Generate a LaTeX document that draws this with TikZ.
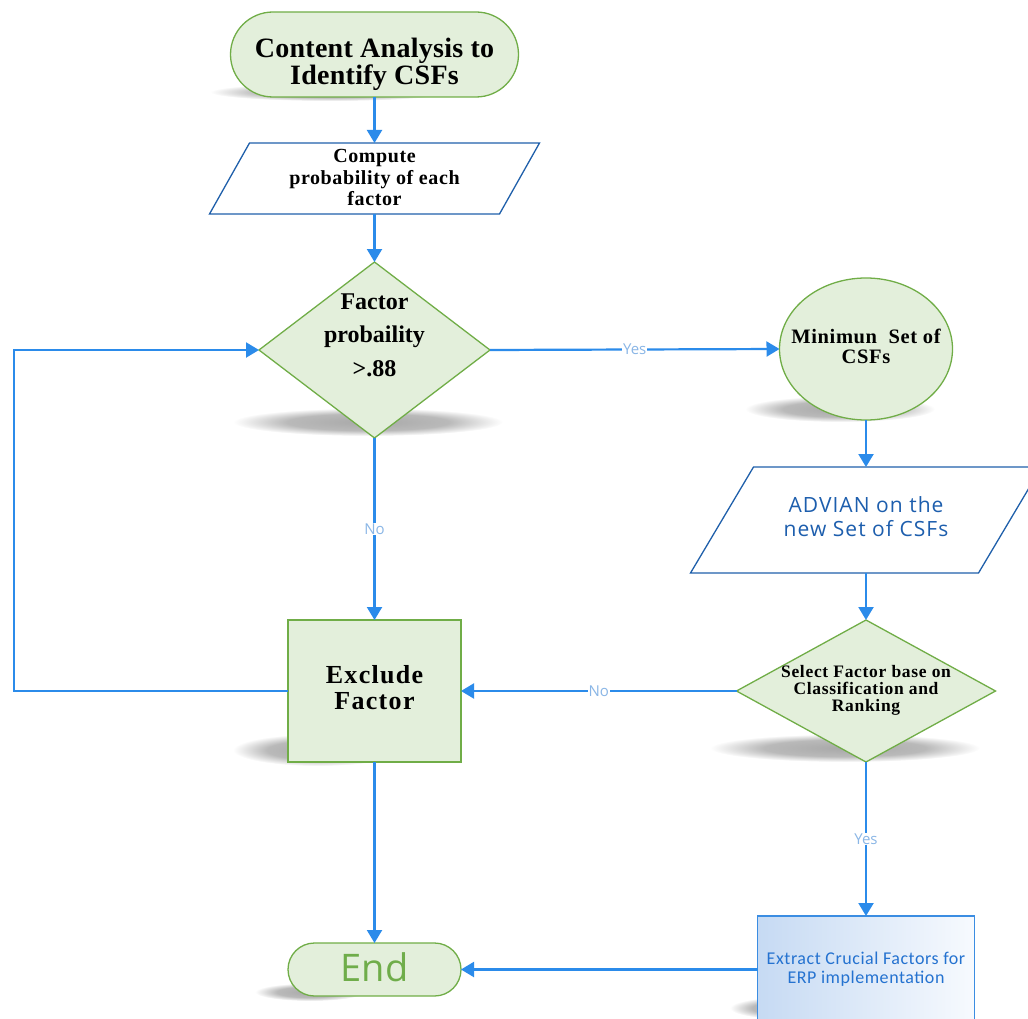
\documentclass[tikz,border=0pt]{standalone}
\usepackage{fontspec}
\usetikzlibrary{shapes.geometric,arrows.meta,calc}
\setmainfont{Liberation Serif}
\newfontfamily\osans{Open Sans}
\newfontfamily\csans{Carlito}
\definecolor{gfill}{HTML}{E3EFDB}
\definecolor{gline}{HTML}{70AD47}
\definecolor{pblue}{HTML}{1F5FAA}
\definecolor{ablue}{HTML}{2B8BEA}
\definecolor{lblue}{HTML}{8AB6E6}
\definecolor{tblue}{HTML}{1D5EAD}
\definecolor{xblue}{HTML}{2472D0}
\definecolor{egrL}{HTML}{C6DAF3}
\definecolor{egrR}{HTML}{F7FAFE}
\definecolor{eline}{HTML}{3B8DE2}
\definecolor{shd}{HTML}{A8A8A8}
\definecolor{endgreen}{HTML}{6FAD4A}
\pgfdeclareradialshading{softshadow}{\pgfpoint{0bp}{0bp}}{color(0bp)=(shd); color(15bp)=(shd!80); color(25bp)=(white); color(50bp)=(white)}
\newcommand\ls[1]{\addfontfeature{LetterSpace=#1}}
\newcommand\zbox[3]{\makebox[0pt]{#1\smash{\raisebox{\dimexpr #2-0.25em\relax}{\begin{tabular}{@{}c@{}}#3\end{tabular}}}}}
\begin{document}
\begin{tikzpicture}[x=1pt,y=-1pt,
  base/.style={inner sep=0pt, outer sep=0pt},
  gshape/.style={base, draw=gline, fill=gfill, line width=1.3pt},
  pbody/.style={base, rectangle},
  pline/.style={draw=pblue, line width=1.3pt, line join=miter},
  arr/.style={draw=ablue, line width=2.2pt, -{Triangle[length=13pt,width=15pt]}},
  lab/.style={fill=white, text=lblue, font=\osans\fontsize{15}{15}\selectfont, inner sep=1pt}]
\useasboundingbox (0,0) rectangle (1028,1019);
\clip (0,0) rectangle (1028,1019);
% shadows
\shade[shading=softshadow] (330,92) ellipse (120 and 9);
\shade[shading=softshadow] (368,422) ellipse (135 and 14);
\shade[shading=softshadow] (840,409) ellipse (95 and 13);
\shade[shading=softshadow] (318,750) ellipse (85 and 16);
\shade[shading=softshadow] (845,748) ellipse (135 and 14);
\shade[shading=softshadow] (310,992) ellipse (55 and 9);
\shade[shading=softshadow] (785,1008) ellipse (55 and 11);
% nodes
\node[gshape, rectangle, rounded corners=42.5pt, minimum width=288pt, minimum height=85pt] (start) at (374.5,54.5)
  {\zbox{\fontsize{28}{27}\bfseries\ls{1}}{-10pt}{Content Analysis to\\Identify CSFs}};
\node[pbody, minimum width=290pt, minimum height=71pt] (comp) at (374.5,178.5)
  {\zbox{\fontsize{20}{21.5}\bfseries\ls{3}}{-1.5pt}{Compute\\probability of each\\factor}};
\draw[pline] ([xshift=20pt]comp.north west) -- ([xshift=20pt]comp.north east) -- ([xshift=-20pt]comp.south east) -- ([xshift=-20pt]comp.south west) -- cycle;
\node[gshape, diamond, minimum width=231pt, minimum height=176pt] (d1) at (374.5,350)
  {\zbox{\fontsize{24}{33.5}\bfseries}{13.5pt}{Factor\\probaility\\>.88}};
\node[gshape, ellipse, minimum width=173pt, minimum height=142pt] (circ) at (866,349)
  {\zbox{\fontsize{20.5}{20}\bfseries\ls{3}}{0pt}{Minimun~ Set of\\CSFs}};
\node[pbody, minimum width=288pt, minimum height=106pt] (adv) at (866,520)
  {\zbox{\osans\fontsize{21}{24}\selectfont\ls{5}\color{tblue}}{0pt}{ADVIAN on the\\new Set of CSFs}};
\draw[pline] ([xshift=31.5pt]adv.north west) -- ([xshift=31.5pt]adv.north east) -- ([xshift=-31.5pt]adv.south east) -- ([xshift=-31.5pt]adv.south west) -- cycle;
\node[gshape, diamond, minimum width=259pt, minimum height=142pt] (d2) at (866,691)
  {\zbox{\fontsize{17.5}{16.7}\bfseries\ls{4}}{0pt}{Select Factor base on\\Classification and\\Ranking}};
\node[gshape, rectangle, minimum width=173pt, minimum height=142pt] (excl) at (374.5,691)
  {\zbox{\fontsize{26}{26}\bfseries\ls{5}}{0pt}{Exclude\\Factor}};
\node[gshape, rectangle, rounded corners=26.5pt, minimum width=173pt, minimum height=53pt] (end) at (374.5,969.5)
  {\zbox{\osans\fontsize{38}{40}\selectfont\color{endgreen}}{0pt}{End}};
\node[base, rectangle, draw=eline, line width=1.3pt, left color=egrL, right color=egrR, minimum width=217pt, minimum height=108pt] (ext) at (866,970)
  {\zbox{\csans\fontsize{18}{19}\selectfont\ls{3}\color{xblue}}{0pt}{Extract Crucial Factors for\\ERP implementation}};
% connectors
\coordinate (loop) at (14,691);
\draw[arr] (start.south) -- (comp.north);
\draw[arr] (comp.south) -- (d1.north);
\draw[arr] (d1.east) -- node[lab]{Yes} (circ.west);
\draw[arr] (d1.south) -- node[lab]{No} (excl.north);
\draw[arr] (excl.west) -- (loop) |- (d1.west);
\draw[arr] (circ.south) -- (adv.north);
\draw[arr] (adv.south) -- (d2.north);
\draw[arr] (d2.west) -- node[lab]{No} (excl.east);
\draw[arr] (d2.south) -- node[lab]{Yes} (ext.north);
\draw[arr] (excl.south) -- (end.north);
\draw[arr] (ext.west |- end.east) -- (end.east);
\end{tikzpicture}
\end{document}
